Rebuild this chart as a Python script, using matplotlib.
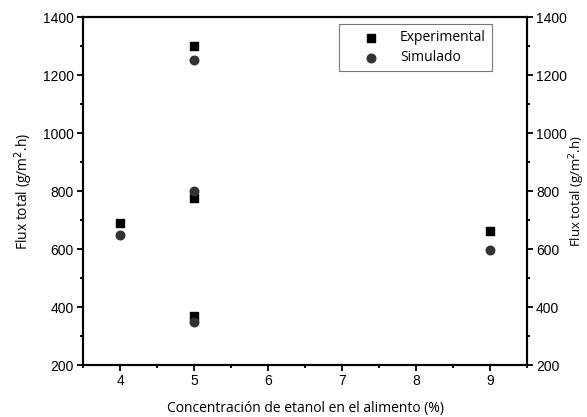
import matplotlib
matplotlib.use("Agg")
import matplotlib.pyplot as plt
from matplotlib.ticker import MultipleLocator

plt.rcParams['font.family'] = ['Open Sans', 'DejaVu Sans']

conc_exp = [4, 5, 5, 5, 9]
flux_exp = [690, 1300, 775, 370, 663]
conc_sim = [4, 5, 5, 5, 9]
flux_sim = [649, 1253, 800, 350, 598]
xticks = [4, 5, 6, 7, 8, 9]
yticks = [200, 400, 600, 800, 1000, 1200, 1400]

fig = plt.figure(figsize=(5.87, 4.17), dpi=100)
ax = fig.add_axes([0.1414, 0.1247, 0.7564, 0.8343])
ax.scatter(conc_exp, flux_exp, marker='s', s=32, color='black', label='Experimental', zorder=3)
ax.scatter(conc_sim, flux_sim, marker='o', s=38, color='#333333', label='Simulado', zorder=3)
ax.set_xlim(3.5, 9.5)
ax.set_ylim(200, 1400)
ax.set_xticks(xticks)
ax.set_yticks(yticks)
ax.xaxis.set_minor_locator(MultipleLocator(0.5))
ax.yaxis.set_minor_locator(MultipleLocator(100))
for s in ax.spines.values():
    s.set_linewidth(1.5)
ax.tick_params(which='both', direction='out', width=1.3, top=False, pad=2.5,
               labelsize=10, labelfontfamily='Liberation Sans')
ax.tick_params(which='major', length=4)
ax.tick_params(which='minor', length=2.5)
ax.set_xlabel('Concentración de etanol en el alimento (%)', fontsize=10, labelpad=9)
ax.set_ylabel('Flux total (g/m$^2$.h)', fontsize=10, labelpad=6)

ax2 = ax.twinx()
ax2.set_ylim(200, 1400)
ax2.set_yticks(yticks)
ax2.yaxis.set_minor_locator(MultipleLocator(100))
ax2.tick_params(which='both', direction='out', width=1.3, pad=2.5,
                labelsize=10, labelfontfamily='Liberation Sans')
ax2.tick_params(which='major', length=4)
ax2.tick_params(which='minor', length=2.5)
ax2.set_ylabel('Flux total (g/m$^2$.h)', fontsize=9.5, labelpad=0)
for s in ax2.spines.values():
    s.set_linewidth(1.5)

leg = ax.legend(loc='upper right', bbox_to_anchor=(0.921, 0.98), fontsize=10, frameon=True,
                fancybox=False, edgecolor='#555555', handlelength=3.6, handletextpad=0.3,
                borderpad=0.45, labelspacing=0.35, borderaxespad=0)
leg.get_frame().set_linewidth(0.8)

fig.savefig('out.png', dpi=100)
